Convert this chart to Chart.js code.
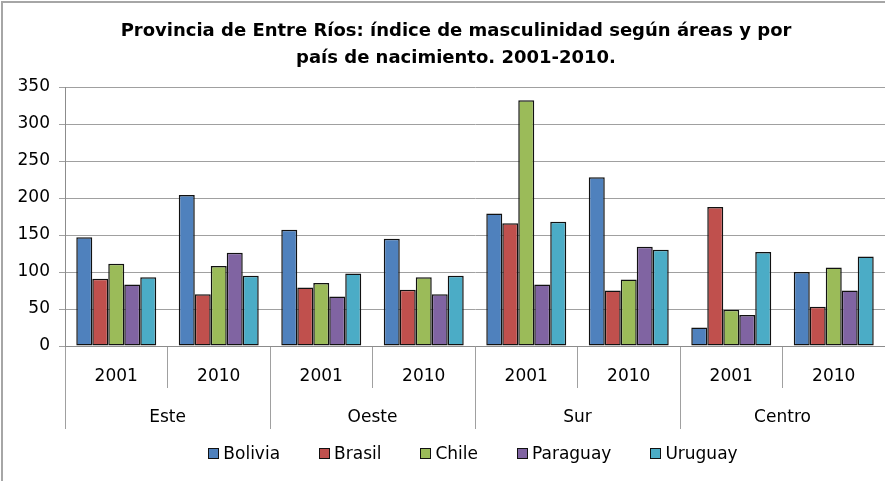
<!DOCTYPE html>
<html lang="es">
<head>
    <meta charset="UTF-8">
    <title>Entre Ríos - índice de masculinidad</title>
    <script src="https://cdn.jsdelivr.net/npm/chart.js"></script>
    <style>
        body { margin: 0; background: #fff; font-family: 'DejaVu Sans', sans-serif; overflow: hidden; }
        #frame { position: absolute; left: 1px; top: 1px; width: 1000px; height: 1000px; border-left: 2px solid #a6a6a6; border-top: 2px solid #a6a6a6; }
        canvas { position: absolute; left: 0; top: 0; }
        #legend { position: absolute; left: 0; width: 946px; top: 443px; display: flex; justify-content: center; font-size: 17px; line-height: 20px; color: #000; }
        #legend .item { display: flex; align-items: center; margin: 0 19.5px; }
        #legend .box { width: 9px; height: 9px; border: 1px solid #111; margin-right: 4px; }
    </style>
</head>
<body>
    <div id="frame"></div>
    <canvas id="chart" width="909" height="481"></canvas>
    <div id="legend"></div>

    <script>
        // categorias: año dentro de cada área
        const years = ['2001', '2010', '2001', '2010', '2001', '2010', '2001', '2010'];
        const areas = ['Este', 'Oeste', 'Sur', 'Centro'];

        // índice de masculinidad por país de nacimiento
        const bolivia  = [147, 204, 157, 145, 179, 228, 25, 100];
        const brasil   = [91, 70, 79, 76, 166, 75, 188, 53];
        const chile    = [111, 108, 85, 93, 332, 90, 49, 106];
        const paraguay = [83, 126, 67, 70, 83, 134, 42, 75];
        const uruguay  = [93, 95, 98, 95, 168, 130, 127, 121];

        const yTicks = [0, 50, 100, 150, 200, 250, 300, 350];

        const colores = {
            Bolivia: '#4F81BD',
            Brasil: '#C0504D',
            Chile: '#9BBB59',
            Paraguay: '#8064A2',
            Uruguay: '#4BACC6'
        };

        function serie(nombre, datos) {
            return {
                label: nombre,
                data: datos,
                backgroundColor: colores[nombre],
                borderColor: '#111',
                borderWidth: 1.5,
                borderSkipped: false,
                categoryPercentage: 0.78,
                barPercentage: 1.0
            };
        }

        Chart.defaults.font.family = "'DejaVu Sans', sans-serif";
        Chart.defaults.color = '#000';

        // el marco del gráfico original es más ancho que la imagen: el lienzo sobresale a la derecha
        const ctx = document.getElementById('chart').getContext('2d');
        const chart = new Chart(ctx, {
            type: 'bar',
            data: {
                labels: years,
                datasets: [
                    serie('Bolivia', bolivia),
                    serie('Brasil', brasil),
                    serie('Chile', chile),
                    serie('Paraguay', paraguay),
                    serie('Uruguay', uruguay)
                ]
            },
            options: {
                responsive: false,
                animation: false,
                layout: { padding: { left: 3, right: 0, top: 0, bottom: 52 } },
                plugins: {
                    title: {
                        display: true,
                        text: ['Provincia de Entre Ríos: índice de masculinidad según áreas y por',
                               'país de nacimiento. 2001-2010.'],
                        font: { size: 18, weight: 'bold', lineHeight: 1.5 },
                        color: '#000',
                        padding: { top: 18, bottom: 15 }
                    },
                    legend: { display: false },
                    tooltip: { enabled: false }
                },
                scales: {
                    x: {
                        afterFit: function(axis) { axis.height = 42; },
                        grid: {
                            drawOnChartArea: false,
                            tickLength: 42,
                            color: '#a0a0a0',
                            offset: true
                        },
                        border: { color: '#8c8c8c' },
                        ticks: {
                            font: { size: 17 },
                            padding: -21.2,
                            maxRotation: 0,
                            autoSkip: false
                        }
                    },
                    x2: {
                        type: 'category',
                        labels: areas,
                        position: 'bottom',
                        offset: true,
                        afterFit: function(axis) { axis.height = 41; },
                        grid: {
                            drawOnChartArea: false,
                            tickLength: 41,
                            color: '#a0a0a0',
                            offset: true
                        },
                        border: { display: false },
                        ticks: {
                            font: { size: 17 },
                            padding: -21.2,
                            maxRotation: 0
                        }
                    },
                    y: {
                        min: 0,
                        max: 350,
                        afterBuildTicks: function(axis) {
                            axis.ticks = yTicks.map(v => ({ value: v }));
                        },
                        afterFit: function(axis) { axis.width = 62; },
                        grid: {
                            color: '#a0a0a0',
                            tickLength: 6
                        },
                        border: { color: '#8c8c8c' },
                        ticks: {
                            font: { size: 17 },
                            padding: 9
                        }
                    },
                    // eje derecho vacío: deja el margen del marco fuera de la imagen
                    yRight: {
                        position: 'right',
                        min: 0,
                        max: 350,
                        afterFit: function(axis) { axis.width = 24; },
                        grid: { display: false },
                        border: { display: false },
                        ticks: { display: false }
                    }
                }
            }
        });

        // leyenda en HTML, armada con los datasets del gráfico
        const legend = document.getElementById('legend');
        chart.data.datasets.forEach(ds => {
            const item = document.createElement('div');
            item.className = 'item';
            const box = document.createElement('span');
            box.className = 'box';
            box.style.background = ds.backgroundColor;
            const txt = document.createElement('span');
            txt.textContent = ds.label;
            item.appendChild(box);
            item.appendChild(txt);
            legend.appendChild(item);
        });
    </script>
</body>
</html>
